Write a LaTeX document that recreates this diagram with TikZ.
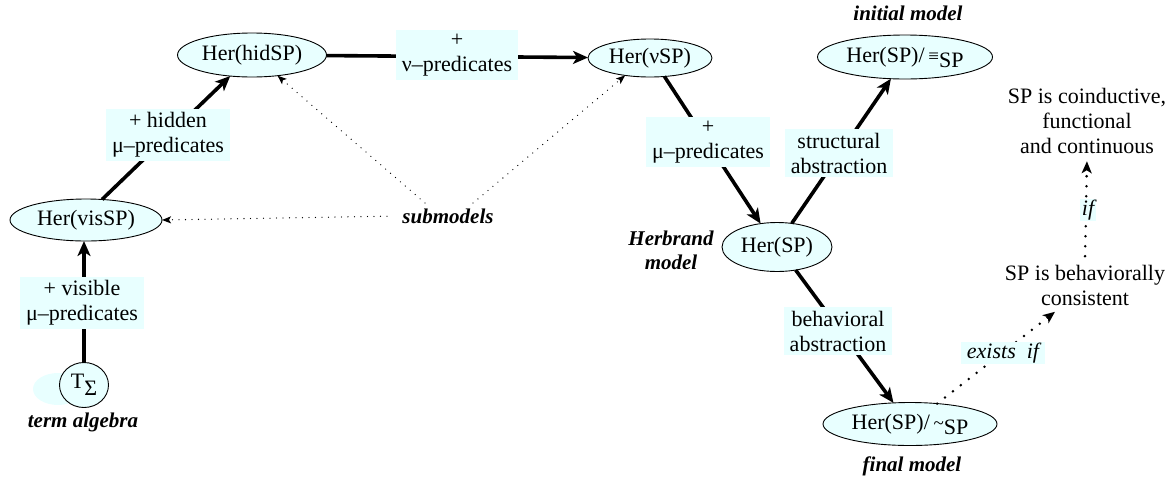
\documentclass[tikz,border=0pt]{standalone}
\usepackage{fontspec}
\setmainfont{Liberation Serif}
\usetikzlibrary{shapes.geometric,arrows.meta}
\definecolor{cyanl}{RGB}{232,255,255}
\begin{document}
\begin{tikzpicture}[x=1pt,y=-1pt,
  font=\fontsize{22}{25}\selectfont,
  mnode/.style={ellipse, draw, line width=0.9pt, fill=cyanl, inner sep=0pt, outer sep=0pt},
  lbl/.style={fill=cyanl, align=center, inner xsep=6pt, inner ysep=4pt},
  ilbl/.style={lbl, font=\fontsize{22}{25}\selectfont\itshape},
  emphl/.style={font=\fontsize{21}{24}\selectfont\bfseries\itshape, align=center},
  thk/.style={line width=3.6pt, -{Stealth[length=15pt,width=13pt,inset=4pt]}},
  dotl/.style={line width=1.3pt, line cap=round, dash pattern=on 0pt off 6.5pt, -{Stealth[length=9pt,width=7pt,inset=2pt]}},
  dotb/.style={line width=2.8pt, line cap=round, dash pattern=on 0pt off 10pt, -{Stealth[length=12pt,width=10pt,inset=3pt]}}
]
\useasboundingbox (0,0) rectangle (1170,480);

% shadow blob behind the term algebra
\fill[cyanl] (58,389) ellipse [x radius=25pt, y radius=16pt];

% model nodes
\node[mnode, minimum width=49pt, minimum height=45pt] (T) at (84,385) {T\raisebox{-7pt}{Σ}};
\node[mnode, minimum width=152pt, minimum height=42pt] (vis) at (86,220) {Her(visSP)};
\node[mnode, minimum width=149pt, minimum height=44pt] (hid) at (252,55) {Her(hidSP)};
\node[mnode, minimum width=124pt, minimum height=38pt] (nu) at (650,58) {Her(νSP)};
\node[mnode, minimum width=175pt, minimum height=44pt] (ini) at (905,57) {Her(SP)/\,{\fontsize{19}{19}\selectfont ≡}\raisebox{-5pt}{SP}};
\node[mnode, minimum width=110pt, minimum height=49pt] (her) at (777,247) {Her(SP)};
\node[mnode, minimum width=174pt, minimum height=43pt] (fin) at (910,424) {Her(SP)/\,{\fontsize{19}{19}\selectfont\textasciitilde}\raisebox{-5pt}{SP}};

% emphasised captions
\node[emphl] (ta) at (83,422) {term algebra};
\node[emphl] (im) at (908,13) {initial model};
\node[emphl] (fm) at (912,466) {final model};
\node[emphl] (hm) at (671,250) {Herbrand\\model};
\node[emphl] (sub) at (448,216) {submodels};

% conditions
\node[align=center] (coin) at (1087,121) {SP is coinductive,\\functional\\and continuous};
\node[align=center] (beh) at (1085,285) {SP is behaviorally\\consistent};

% thick connectors
\draw[thk] (T.north) -- (T.north |- vis.south);
\draw[thk] (vis.52) -- (hid.224);
\draw[thk] (hid) -- (nu);
\draw[thk] (nu.308) -- (her.125);
\draw[thk] (her.58) -- (ini.237);
\draw[thk] (her.309) -- (fin.128);

% dotted connectors
\draw[dotl, shorten <=12pt] (sub.west) -- (vis.east);
\draw[dotl] ([xshift=-23pt,yshift=2pt]sub.north) -- (hid.321);
\draw[dotl] ([xshift=25pt,yshift=2pt]sub.north) -- (nu.215.5);
\draw[dotb] (fin.37) -- ([xshift=-30pt,yshift=-3pt]beh.south);
\draw[dotb, shorten <=5pt, shorten >=4pt] (beh.north) -- (coin.south);

% edge labels
\node[lbl] (l1) at (82,303) {+ visible\\μ–predicates};
\node[lbl] (l2) at (168,135) {+ hidden\\μ–predicates};
\node[lbl] (l3) at (457,55) {+\\ν–predicates};
\node[lbl] (l4) at (708,142) {+\\μ–predicates};
\node[lbl] (l5) at (839,153) {structural\\abstraction};
\node[lbl] (l6) at (838,331) {behavioral\\abstraction};
\node[ilbl, inner ysep=1pt] (l7) at (1003,353) {exists\ \ if};
\node[ilbl, inner xsep=2pt, inner ysep=1pt] (l8) at (1088,210) {if};
\end{tikzpicture}
\end{document}
